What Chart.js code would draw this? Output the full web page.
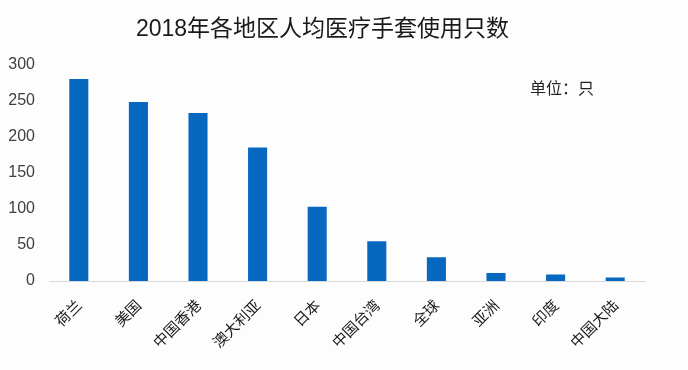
<!DOCTYPE html>
<html>
<head>
<meta charset="utf-8">
<script src="https://cdn.jsdelivr.net/npm/chart.js@4"></script>
<style>
html,body{margin:0;padding:0;background:#fdfdfe;}
#wrap{width:688px;height:370px;}
</style>
</head>
<body>
<div id="wrap"><canvas id="c" width="688" height="370"></canvas></div>
<script>
const categories = ["荷兰","美国","中国香港","澳大利亚","日本","中国台湾","全球","亚洲","印度","中国大陆"];
const gloveCounts = [280, 248, 233, 185, 103, 55, 33, 11, 9, 5];
const yTicks = [0, 50, 100, 150, 200, 250, 300];
const titleText = "2018年各地区人均医疗手套使用只数";
const unitText = "单位：只";

const FONT = '"Liberation Sans", "Noto Sans CJK SC", sans-serif';
const CJK = '"Noto Sans CJK SC", "Liberation Sans", sans-serif';

const unitPlugin = {
  id: 'unitLabel',
  afterDraw(chart) {
    const ctx = chart.ctx;
    ctx.save();
    ctx.font = '16px ' + CJK;
    ctx.fillStyle = '#222';
    ctx.textAlign = 'left';
    ctx.textBaseline = 'middle';
    ctx.fillText(unitText, 530, 88);
    ctx.restore();
  }
};

new Chart(document.getElementById('c'), {
  type: 'bar',
  data: {
    labels: categories,
    datasets: [{
      data: gloveCounts,
      backgroundColor: '#0768C0',
      barPercentage: 0.32,
      categoryPercentage: 1.0
    }]
  },
  options: {
    responsive: false,
    animation: false,
    devicePixelRatio: 1,
    layout: { padding: { left: 0, right: 43, top: 0, bottom: 0 } },
    plugins: {
      legend: { display: false },
      tooltip: { enabled: false },
      title: {
        display: true,
        text: titleText,
        color: '#1a1a1a',
        font: { family: FONT, size: 23, weight: 'normal' },
        padding: { top: 16, bottom: 21 }
      }
    },
    scales: {
      x: {
        grid: { display: false, drawTicks: false },
        border: { display: true, color: '#d9d9d9', width: 1 },
        ticks: {
          color: '#1a1a1a',
          font: { family: CJK, size: 15 },
          minRotation: 45,
          maxRotation: 45,
          padding: 15,
          autoSkip: false
        },
        afterFit(scale) { scale.height = 89; }
      },
      y: {
        min: 0,
        max: 300,
        afterBuildTicks(scale) { scale.ticks = yTicks.map(v => ({ value: v })); },
        grid: { display: false, drawTicks: false },
        border: { display: false },
        ticks: {
          color: '#404040',
          font: { family: FONT, size: 16 },
          padding: 14
        },
        afterFit(scale) { scale.width = 49; }
      }
    }
  },
  plugins: [unitPlugin]
});
</script>
</body>
</html>
